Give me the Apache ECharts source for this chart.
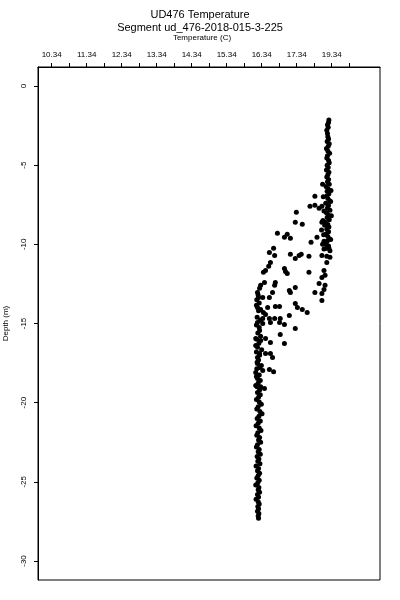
<!DOCTYPE html>
<html>
<head>
<meta charset="utf-8">
<script src="https://cdn.jsdelivr.net/npm/echarts@6/dist/echarts.min.js"></script>
<style>html,body{margin:0;padding:0;background:#fff}#c{width:400px;height:600px}</style>
</head>
<body>
<div id="c"></div>
<script>
// Upper warm column
var upperDepth = [-2.15,-2.3,-2.45,-2.6,-2.8,-3.0,-3.2,-3.35,-3.5,-3.65,-3.8,-3.95,-4.1,-4.25,-4.4,-4.55,-4.7,-4.85,-5.0,-5.15,-5.3,-5.45,-5.6,-5.75,-5.9,-6.05,-6.2,-6.35,-6.5,-6.65,-6.8,-6.95,-7.1,-7.25,-7.4,-7.55,-7.7,-7.85,-8.0,-8.15,-8.3,-8.45,-8.6,-8.75,-8.9,-9.05,-9.2,-9.35,-9.5,-9.65,-9.8,-9.95,-10.1,-10.25,-10.4,
  -6.2,-6.6,-7.0,-7.3,-7.6,-7.9,-8.2,-8.5,-8.8,-9.1,-9.4,-9.7,-10.0,-10.3];
var upperTemp = [18.26,18.25,18.22,18.24,18.20,18.22,18.23,18.25,18.21,18.27,18.24,18.19,18.23,18.28,18.22,18.20,18.25,18.27,18.21,18.24,18.19,18.26,18.23,18.20,18.25,18.22,18.27,18.18,18.24,18.21,18.26,18.20,18.23,18.28,18.17,18.25,18.22,18.29,18.19,18.24,18.21,18.27,18.16,18.23,18.26,18.20,18.25,18.18,18.23,18.27,18.21,18.15,18.25,18.19,18.29,
  18.08,18.32,18.10,18.31,18.06,18.12,18.33,18.09,18.14,18.05,18.11,18.31,18.08,18.12];
// Transition (thermocline) scatter
var midDepth = [-6.96,-7.59,-7.53,-7.72,-7.97,-8.61,-8.73,-8.61,-9.30,-9.56,-9.37,-9.62,-9.87,-9.56,-10.25,-10.06,-9.81,-10.25,
  -10.51,-10.70,-10.63,-10.89,-10.70,-10.63,-10.76,-10.70,-10.76,-10.82,-11.14,-11.14,-11.39,-11.65,-11.77,-11.52,-11.71,-11.84,-11.77,-11.65,-11.96,-12.09,
  -12.41,-12.59,-12.78,-13.04,-12.41,-12.59,-12.91,-12.72,-13.04,-12.47,-12.59,-12.85,-13.10,-13.04,-13.54,-13.35,-13.35,-13.35,-13.04,
  -13.99,-14.11,-14.30,-14.43,-13.99,-13.92,-13.92,-13.73,-13.99,-14.11,-14.30,-14.49,-14.68,-14.68,-14.68,-14.68,
  -14.94,-15.00,-14.94,-14.94,-15.06,-15.32,-15.44,-15.70,-15.95,-16.08,-15.95,-16.20,-16.27,-16.39,-16.90,-17.15,-16.90,-16.90,-17.15,
  -17.53,-17.78,-18.10,-17.97,-17.91,-18.04,-18.48,-18.92,-18.99,-19.11];
var midTemp = [17.86,17.72,17.86,17.98,17.33,17.30,17.50,18.06,16.79,16.99,17.07,17.16,17.75,17.92,16.68,18.20,18.12,18.26,
  16.56,16.71,17.16,17.30,17.41,17.47,17.69,18.06,18.20,18.29,18.20,16.59,16.54,16.45,16.39,16.99,17.02,17.07,17.69,18.12,18.15,18.06,
  16.42,16.31,16.28,16.22,16.73,16.71,17.13,17.30,17.16,17.98,18.15,18.12,18.06,17.86,18.06,16.25,16.37,16.56,16.65,
  16.22,16.31,16.39,16.45,16.51,16.73,16.85,17.30,17.36,17.50,17.64,17.13,16.71,16.87,16.37,16.56,
  16.22,16.37,16.59,16.85,16.99,17.30,16.28,16.87,16.17,16.31,16.45,16.59,16.99,16.17,16.28,16.22,16.45,16.59,16.65,
  16.22,16.28,16.17,16.37,16.56,16.68,16.22,16.17,16.31,16.42];
// Lower cool column
var lowerDepth = [-13.2,-13.5,-13.7,-13.85,-14.2,-14.6,-14.8,-15.1,-15.25,-15.6,-15.8,-16.0,-16.25,-16.5,-16.65,-16.8,-17.0,-17.3,-17.45,-17.65,-17.85,-18.25,-18.35,-18.6,-18.75,-19.0,
  -19.2,-19.35,-19.5,-19.65,-19.8,-19.95,-20.1,-20.25,-20.4,-20.55,-20.7,-20.85,-21.0,-21.15,-21.3,-21.45,-21.6,-21.75,-21.9,-22.05,-22.2,-22.35,-22.5,-22.65,-22.8,-22.95,-23.1,-23.25,-23.4,-23.55,-23.7,-23.85,-24.0,-24.15,-24.3,-24.45,-24.6,-24.75,-24.9,-25.05,-25.2,-25.35,-25.5,-25.65,-25.8,-25.95,-26.1,-26.25,-26.4,-26.55,-26.7,-26.85,-27.0,-27.15,-27.3];
var lowerTemp = [16.24,16.20,16.27,16.19,16.25,16.21,16.30,16.19,16.27,16.23,16.31,16.20,16.26,16.22,16.34,16.19,16.28,16.25,16.21,16.33,16.20,16.27,16.19,16.30,16.24,16.21,
  16.28,16.22,16.30,16.25,16.19,16.27,16.33,16.24,16.20,16.29,16.35,16.26,16.21,16.30,16.24,16.18,16.27,16.32,16.23,16.20,16.28,16.25,16.31,16.22,16.19,16.27,16.24,16.30,16.21,16.26,16.23,16.29,16.18,16.25,16.22,16.28,16.24,16.20,16.27,16.23,16.17,16.26,16.24,16.28,16.22,16.25,16.18,16.24,16.27,16.23,16.25,16.22,16.26,16.24,16.25];

var xTickValues = [10.34,10.84,11.34,11.84,12.34,12.84,13.34,13.84,14.34,14.84,15.34,15.84,16.34,16.84,17.34,17.84,18.34,18.84];
var xLabelValues = [10.34,11.34,12.34,13.34,14.34,15.34,16.34,17.34,18.34];
var xLabelTexts = ['10.34','11.34','12.34','13.34','14.34','15.34','16.34','17.34','19.34'];
var yTickValues = [-30,-25,-20,-15,-10,-5,0];

function pairs(t, d){ var o=[]; for(var i=0;i<t.length;i++) o.push([t[i], d[i]]); return o; }
var pts = pairs(upperTemp, upperDepth).concat(pairs(midTemp, midDepth)).concat(pairs(lowerTemp, lowerDepth));

var F = 'Liberation Sans, Arial, sans-serif';
var chart = echarts.init(document.getElementById('c'), null, {renderer:'canvas'});
chart.setOption({
  animation:false,
  backgroundColor:'#fff',
  title:[
    {text:'UD476 Temperature', left:'center', top:4, textStyle:{fontFamily:F,fontSize:11,fontWeight:'normal',color:'#000'}},
    {text:'Segment ud_476-2018-015-3-225', left:'center', top:17, textStyle:{fontFamily:F,fontSize:11,fontWeight:'normal',color:'#000'}}
  ],
  grid:{left:38, right:20, top:67, bottom:20, outerBoundsMode:'none', containLabel:false, show:true, borderColor:'#000', borderWidth:1, backgroundColor:'transparent'},
  xAxis:{
    type:'value', position:'top', min:9.95, max:19.72,
    name:'Temperature (C)', nameLocation:'middle', nameGap:25,
    nameTextStyle:{fontFamily:F,fontSize:8,color:'#000',padding:[0,14,0,0]},
    axisLine:{show:true,onZero:false,lineStyle:{color:'#000',width:1}},
    axisTick:{show:true,length:4,inside:false,customValues:xTickValues,lineStyle:{color:'#000'}},
    axisLabel:{customValues:xLabelValues,margin:8,fontFamily:F,fontSize:8,color:'#000',
      formatter:function(v){ var i = xLabelValues.findIndex(function(a){return Math.abs(a-v)<1e-6;}); return i>=0?xLabelTexts[i]:''; }},
    splitLine:{show:false}
  },
  yAxis:{
    type:'value', min:-31.2, max:1.2,
    name:'Depth (m)', nameLocation:'middle', nameGap:28, nameRotate:90,
    nameTextStyle:{fontFamily:F,fontSize:8,color:'#000'},
    axisLine:{show:true,onZero:false,lineStyle:{color:'#000',width:1}},
    axisTick:{show:true,length:4,customValues:yTickValues,lineStyle:{color:'#000'}},
    axisLabel:{customValues:yTickValues,rotate:90,margin:10,fontFamily:F,fontSize:8,color:'#000'},
    splitLine:{show:false}
  },
  series:[{type:'scatter', data:pts, symbol:'circle', symbolSize:5, itemStyle:{color:'#000', opacity:1}}]
});
</script>
</body>
</html>
